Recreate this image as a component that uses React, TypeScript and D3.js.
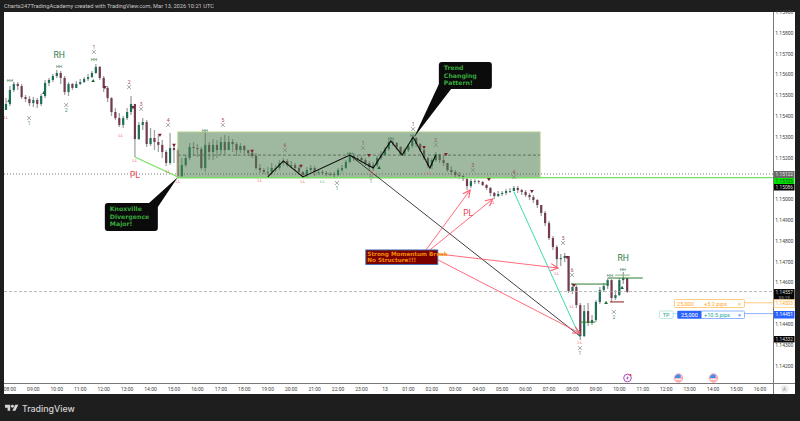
import React from 'react'
import * as d3 from 'd3'

// prices are in 1e-5 units (115459 = 1.15459), one bar every 10 minutes from 07:50
const closes = [
  115459, 115526, 115555, 115545, 115492, 115483, 115463, 115478, 115459, 115497,
  115560, 115574, 115593, 115608, 115584, 115516, 115555, 115536, 115555, 115564,
  115579, 115588, 115608, 115637, 115584, 115536, 115487, 115420, 115391, 115358,
  115391, 115420, 115459, 115290, 115358, 115372, 115266, 115295, 115276, 115262,
  115228, 115175, 115247, 115237, 115112, 115165, 115199, 115252, 115247, 115242,
  115151, 115262, 115228, 115262, 115237, 115276, 115237, 115276, 115266, 115237,
  115257, 115237, 115223, 115209, 115151, 115141, 115132, 115132, 115151, 115151,
  115175, 115185, 115165, 115165, 115151, 115132, 115117, 115141, 115151, 115132,
  115132, 115127, 115122, 115122, 115117, 115141, 115151, 115180, 115209, 115199,
  115199, 115189, 115175, 115156, 115165, 115199, 115213, 115242, 115276, 115271,
  115252, 115218, 115237, 115257, 115295, 115266, 115237, 115199, 115161, 115189,
  115218, 115189, 115175, 115141, 115132, 115117, 115112, 115098, 115064, 115088,
  115088, 115084, 115069, 115055, 115031, 115016, 115026, 115031, 115040, 115040,
  115055, 115045, 115036, 115021, 115011, 114997, 114973, 114935, 114886, 114814,
  114771, 114713, 114718, 114728, 114560, 114579, 114492, 114343, 114463, 114406,
  114420, 114507, 114564, 114584, 114612, 114526, 114540, 114612, 114622, 114555,
]
const highs = [
  115487, 115545, 115564, 115564, 115555, 115502, 115497, 115492, 115487, 115507,
  115574, 115584, 115603, 115622, 115617, 115593, 115564, 115560, 115569, 115579,
  115588, 115603, 115617, 115651, 115641, 115593, 115545, 115492, 115439, 115415,
  115401, 115439, 115497, 115459, 115372, 115391, 115382, 115343, 115334, 115314,
  115286, 115237, 115319, 115262, 115247, 115199, 115213, 115271, 115276, 115266,
  115252, 115324, 115276, 115290, 115286, 115300, 115310, 115305, 115290, 115276,
  115271, 115262, 115237, 115233, 115223, 115170, 115151, 115156, 115175, 115165,
  115189, 115199, 115194, 115185, 115175, 115161, 115136, 115156, 115165, 115161,
  115146, 115141, 115136, 115132, 115132, 115151, 115165, 115189, 115223, 115223,
  115213, 115209, 115199, 115185, 115180, 115209, 115233, 115252, 115286, 115286,
  115276, 115257, 115247, 115266, 115305, 115300, 115271, 115242, 115204, 115199,
  115228, 115218, 115213, 115175, 115161, 115141, 115132, 115117, 115103, 115098,
  115098, 115093, 115088, 115074, 115060, 115036, 115040, 115040, 115050, 115055,
  115064, 115064, 115050, 115045, 115031, 115021, 115002, 114973, 114944, 114896,
  114824, 114781, 114738, 114742, 114728, 114598, 114588, 114502, 114492, 114502,
  114444, 114516, 114579, 114598, 114622, 114617, 114564, 114622, 114651, 114598,
]
const lows = [
  115430, 115449, 115516, 115526, 115483, 115468, 115449, 115444, 115439, 115449,
  115487, 115545, 115564, 115584, 115555, 115502, 115497, 115526, 115536, 115550,
  115560, 115569, 115584, 115603, 115574, 115516, 115468, 115401, 115382, 115348,
  115343, 115382, 115406, 115204, 115286, 115334, 115252, 115257, 115237, 115228,
  115199, 115161, 115165, 115175, 115108, 115108, 115156, 115189, 115209, 115204,
  115141, 115132, 115189, 115189, 115199, 115213, 115213, 115237, 115228, 115209,
  115223, 115218, 115209, 115199, 115141, 115127, 115122, 115117, 115117, 115132,
  115141, 115161, 115156, 115151, 115136, 115122, 115103, 115108, 115132, 115112,
  115117, 115117, 115112, 115112, 115103, 115112, 115132, 115146, 115175, 115185,
  115185, 115175, 115161, 115141, 115136, 115156, 115189, 115209, 115233, 115257,
  115237, 115209, 115209, 115228, 115247, 115252, 115228, 115189, 115151, 115146,
  115180, 115175, 115161, 115132, 115117, 115108, 115098, 115088, 115045, 115055,
  115074, 115074, 115064, 115045, 115016, 115002, 115011, 115016, 115021, 115031,
  115040, 115031, 115021, 115011, 114997, 114983, 114959, 114920, 114872, 114805,
  114757, 114670, 114680, 114699, 114550, 114545, 114478, 114324, 114338, 114391,
  114396, 114410, 114497, 114555, 114569, 114507, 114516, 114535, 114593, 114550,
]
const firstOpen = 115430

// 1.15100 and 1.14500 sit behind the price badges, so they are left out
const priceTicks = [115900, 115800, 115700, 115600, 115500, 115400, 115300, 115200, 115000,
  114900, 114800, 114700, 114600, 114400, 114300, 114200]
const timeLabels = ['08:00', '09:00', '10:00', '11:00', '12:00', '13:00', '14:00', '15:00', '16:00', '17:00',
  '18:00', '19:00', '20:00', '21:00', '22:00', '23:00', '13', '01:00', '02:00', '03:00', '04:00', '05:00',
  '06:00', '07:00', '08:00', '09:00', '10:00', '11:00', '12:00', '13:00', '14:00', '15:00', '16:00']

// annotation points: [bar index, price]
const zigzag = [[67, 115108], [71, 115185], [76, 115108], [88, 115213], [94, 115151], [98.5, 115281],
  [101.4, 115213], [104.2, 115300], [108.5, 115151], [110, 115213]]
const blackTrend = [[88, 115213], [146.9, 114343]]
const tealTrend = [[130, 115036], [146.9, 114338]]
const plLine = [[33, 115204], [44, 115108]]
const redArrows = [
  [[107.5, 114757], [118.8, 115045]],
  [[108.5, 114757], [124.6, 115002]],
  [[110.6, 114738], [141.3, 114670]],
  [[110.6, 114709], [146.9, 114357]],
]
const hhMarks = [[1, 115574], [13.6, 115641], [22.5, 115675], [50.9, 115329], [88, 115223], [98.5, 115295],
  [104.2, 115305], [154.6, 114632], [157.9, 114661]]
const llMarks = [[0, 115396], [29.4, 115305], [33, 115185], [41.5, 115136], [44, 115084], [65, 115093],
  [76, 115084], [93.7, 115127], [108.3, 115127], [118.5, 115031], [124.6, 114983], [141, 114646],
  [144.9, 114483], [146.9, 114310]]
const countsAbove = [[22.5, 115709, '1'], [31.5, 115540, '2'], [34.6, 115435, '3'], [41.5, 115358, '4'],
  [55.5, 115358, '5'], [71.4, 115237, '6'], [91.4, 115247, '1'], [104.2, 115338, '1'], [110, 115262, '2'],
  [119.5, 115141, '3'], [130, 115108, '4'], [142.6, 114790, '5'], [144.9, 114636, '6']]
const countsBelow = [[5.9, 115391, '1'], [15.4, 115454, '2'], [84.7, 115079, '1'], [93.4, 115112, '1'],
  [146.9, 114285, '1'], [155.6, 114459, '2']]
const downMarks = [[25.3, 115540], [32.5, 115444], [39.4, 115310], [43, 115262], [63, 115233], [75.5, 115161],
  [92.9, 115213], [107, 115252], [112.6, 115218], [123.6, 115098], [134.6, 115040], [143.6, 114723], [145.4, 114588]]
const upMarks = [[0.8, 115473], [9.7, 115512], [22.3, 115569], [95.5, 115151], [153.6, 114502], [157.7, 114574]]
const levelSegments = [
  [144.6, 154.1, 114593, '#2e7d32'],
  [154.1, 163, 114622, '#2e7d32'],
  [146.9, 150.8, 114410, '#2e7d32'],
  [155.9, 159.7, 114636, '#7fb77f'],
  [154.6, 158.2, 114507, '#8b1a1a'],
]

const barX = d3.scaleLinear().domain([0, 193]).range([6, 760])
const priceY = d3.scaleLinear().domain([115800, 114200]).range([33, 365.8])
const chartLeft = 4
const chartRight = 773
const chartTop = 12
const chartBottom = 383

const toLine = d3.line<number[]>().x(d => barX(d[0])).y(d => priceY(d[1]))
const crossPath = d3.symbol(d3.symbolTimes, 12)() || ''
const trianglePath = d3.symbol(d3.symbolTriangle, 6)() || ''
const axisFont = 'Roboto, sans-serif'
const noteFont = '"DejaVu Sans", sans-serif'

function Callout({ i, p, w, h, tip, base, lines }: any) {
  const left = barX(i)
  const top = priceY(p)
  return (
    <g>
      <polygon
        points={`${left + base[0]},${top + base[1]} ${left + base[2]},${top + base[3]} ${barX(tip[0])},${priceY(tip[1])}`}
        fill="#0b0b0b"
      />
      <rect x={left} y={top} width={w} height={h} rx={3} fill="#0b0b0b" />
      {lines.map((line: string, k: number) => (
        <text key={k} x={left + 5} y={top + 8 + k * 7.6} fontSize={6.2} fontWeight="bold" fontFamily={noteFont} fill="#38a83c">
          {line}
        </text>
      ))}
    </g>
  )
}

function PriceBadge({ top, h, fill, color, stroke, label }: any) {
  return (
    <g>
      <rect x={774} y={top} width={20.5} height={h} fill={fill} stroke={stroke || 'none'} strokeWidth={stroke ? 0.8 : 0} />
      <text x={784.3} y={top + h / 2 + 1.7} fontSize={4.8} textAnchor="middle" fontFamily={axisFont} fill={color}>{label}</text>
    </g>
  )
}

export default function App() {
  const bars = closes.map((c, i) => ({
    i,
    open: i === 0 ? firstOpen : closes[i - 1],
    close: c,
    high: highs[i],
    low: lows[i],
  }))

  return (
    <svg
      width={800}
      height={421}
      style={{ position: 'absolute', left: 0, top: 0, display: 'block', background: '#1e1e1e' }}
    >
      <defs>
        <clipPath id="plot">
          <rect x={chartLeft} y={chartTop} width={chartRight - chartLeft} height={chartBottom - chartTop} />
        </clipPath>
        <marker id="redHead" viewBox="0 0 10 10" refX="9" refY="5" markerWidth="9" markerHeight="9" orient="auto" markerUnits="userSpaceOnUse">
          <path d="M1,1 L9,5 L1,9" fill="none" stroke="#ff5a6e" strokeWidth="1.2" />
        </marker>
      </defs>

      <rect x={chartLeft} y={chartTop} width={791} height={382} fill="#ffffff" />
      <text x={4} y={8} fontSize={5.7} fontFamily={axisFont} fill="#c8c8c8">
        Charts247TradingAcademy created with TradingView.com, Mar 13, 2026 10:21 UTC
      </text>

      <g clipPath="url(#plot)">
        {/* candles */}
        {bars.map(b => {
          const up = b.close >= b.open
          const y0 = priceY(Math.max(b.open, b.close))
          const y1 = priceY(Math.min(b.open, b.close))
          return (
            <g key={b.i}>
              <line x1={barX(b.i)} x2={barX(b.i)} y1={priceY(b.high)} y2={priceY(b.low)} stroke="#a2a2a2" strokeWidth={1.3} />
              <rect x={barX(b.i) - 1.1} y={y0} width={2.2} height={Math.max(y1 - y0, 0.8)} fill={up ? '#1a6f58' : '#743a50'} />
            </g>
          )
        })}

        {/* range box */}
        <rect
          x={barX(44)}
          y={priceY(115324)}
          width={barX(136.7) - barX(44)}
          height={priceY(115103) - priceY(115324)}
          fill="#4e7f50"
          fillOpacity={0.55}
          stroke="#b5cf8c"
          strokeWidth={1}
        />
        <line x1={barX(44)} x2={barX(136.7)} y1={priceY(115213)} y2={priceY(115213)} stroke="#5c6e5c" strokeWidth={1} strokeDasharray="3 2" />

        <line x1={chartLeft} x2={chartRight} y1={priceY(115122)} y2={priceY(115122)} stroke="#555" strokeWidth={0.8} strokeDasharray="1 2" />
        <line x1={chartLeft} x2={chartRight} y1={priceY(114557)} y2={priceY(114557)} stroke="#aaa" strokeWidth={0.8} strokeDasharray="3 2" />
        <line x1={barX(44)} x2={chartRight} y1={priceY(115105)} y2={priceY(115105)} stroke="#76e060" strokeWidth={1.2} />
        <path d={toLine(plLine as number[][]) || ''} fill="none" stroke="#76e060" strokeWidth={1.2} />

        {levelSegments.map((s, k) => (
          <line key={k} x1={barX(s[0] as number)} x2={barX(s[1] as number)} y1={priceY(s[2] as number)} y2={priceY(s[2] as number)} stroke={s[3] as string} strokeWidth={1} />
        ))}

        <path d={toLine(tealTrend as number[][]) || ''} fill="none" stroke="#3ddbb0" strokeWidth={1} />
        <path d={toLine(blackTrend as number[][]) || ''} fill="none" stroke="#2a2a2a" strokeWidth={0.9} />
        <path d={toLine(zigzag as number[][]) || ''} fill="none" stroke="#0a0a0a" strokeWidth={1.1} />

        {redArrows.map((a, k) => (
          <path key={k} d={toLine(a as number[][]) || ''} fill="none" stroke="#ff5a6e" strokeWidth={0.9} markerEnd="url(#redHead)" />
        ))}

        {/* marks */}
        {downMarks.map((m, k) => (
          <path key={k} d={trianglePath} transform={`translate(${barX(m[0])},${priceY(m[1])}) rotate(180)`} fill="#7a1f2e" />
        ))}
        {upMarks.map((m, k) => (
          <path key={k} d={trianglePath} transform={`translate(${barX(m[0])},${priceY(m[1])})`} fill="#1f6b35" />
        ))}
        {hhMarks.map((m, k) => (
          <text key={k} x={barX(m[0])} y={priceY(m[1]) + 1.5} fontSize={4.4} textAnchor="middle" fontFamily={axisFont} fill="#3f7f55">HH</text>
        ))}
        {llMarks.map((m, k) => (
          <text key={k} x={barX(m[0])} y={priceY(m[1]) + 1.5} fontSize={4.4} textAnchor="middle" fontFamily={axisFont} fill="#f0696e">LL</text>
        ))}
        <text x={barX(81)} y={priceY(115088) + 1.5} fontSize={4.4} textAnchor="middle" fontFamily={axisFont} fill="#4fb36a">LL</text>
        {countsAbove.map((m, k) => (
          <g key={k}>
            <text x={barX(m[0] as number)} y={priceY(m[1] as number) - 3.2} fontSize={5} textAnchor="middle" fontFamily={axisFont} fill="#9a4a55">{m[2]}</text>
            <path d={crossPath} transform={`translate(${barX(m[0] as number)},${priceY(m[1] as number)})`} fill="none" stroke="#808080" strokeWidth={0.7} />
          </g>
        ))}
        {countsBelow.map((m, k) => (
          <g key={k}>
            <path d={crossPath} transform={`translate(${barX(m[0] as number)},${priceY(m[1] as number)})`} fill="none" stroke="#808080" strokeWidth={0.7} />
            <text x={barX(m[0] as number)} y={priceY(m[1] as number) + 7} fontSize={5} textAnchor="middle" fontFamily={axisFont} fill="#4d8f66">{m[2]}</text>
          </g>
        ))}

        <text x={barX(13.6)} y={priceY(115709) + 6} fontSize={8.6} textAnchor="middle" fontFamily={axisFont} fill="#2e7d4f">RH</text>
        <text x={barX(158)} y={priceY(114703)} fontSize={8.6} textAnchor="middle" fontFamily={axisFont} fill="#2e7d4f">RH</text>
        <text x={barX(33)} y={priceY(115103)} fontSize={8.6} textAnchor="middle" fontFamily={axisFont} fill="#f0454f">PL</text>
        <text x={barX(118.3)} y={priceY(114921)} fontSize={8.6} textAnchor="middle" fontFamily={axisFont} fill="#f0454f">PL</text>

        <Callout
          i={25.3}
          p={114983}
          w={53}
          h={28}
          tip={[44, 115108]}
          base={[42, 2, 53, 4]}
          lines={['Knoxville', 'Divergence', 'Major!']}
        />
        <Callout
          i={110.8}
          p={115661}
          w={53}
          h={27}
          tip={[104.5, 115300]}
          base={[1, 20, 13, 26]}
          lines={['Trend', 'Changing', 'Pattern!']}
        />

        <rect x={barX(92.1)} y={priceY(114757)} width={72} height={14.5} fill="#7a0000" stroke="#3b6fb0" strokeWidth={0.9} />
        <text x={barX(92.1) + 1.5} y={priceY(114757) + 6} fontSize={5.7} fontWeight="bold" fontFamily={noteFont} fill="#f28a00">Strong Momentum Break</text>
        <text x={barX(92.1) + 1.5} y={priceY(114757) + 12.4} fontSize={5.7} fontWeight="bold" fontFamily={noteFont} fill="#f28a00">No Structure!!!</text>

        {/* order lines */}
        <line x1={744} x2={chartRight} y1={priceY(114503)} y2={priceY(114503)} stroke="#ffcc80" strokeWidth={1} />
        <line x1={744} x2={chartRight} y1={priceY(114451)} y2={priceY(114451)} stroke="#90b4ff" strokeWidth={1} />
        <line x1={673} x2={677} y1={priceY(114451)} y2={priceY(114451)} stroke="#b2dfdb" strokeWidth={1} />
        <g fontFamily={axisFont} fontSize={5.6}>
          <rect x={674.5} y={299.5} width={70} height={8} rx={1} fill="#fff" stroke="#ffcc80" strokeWidth={1} />
          <text x={677} y={305.5} fill="#ffa726">25,000</text>
          <text x={704} y={305.5} fill="#ffa726">+5.2 pips</text>
          <text x={739.5} y={305.7} textAnchor="middle" fill="#ffa726">×</text>

          <rect x={659.5} y={311} width={13.5} height={7.5} rx={1} fill="#fff" stroke="#b2dfdb" strokeWidth={0.8} />
          <text x={666.2} y={317} textAnchor="middle" fill="#26a69a">TP</text>
          <rect x={677.5} y={311} width={67} height={7.5} rx={1} fill="#fff" stroke="#90b4ff" strokeWidth={1} />
          <rect x={677.5} y={311} width={24} height={7.5} fill="#2962ff" />
          <text x={689.5} y={317} textAnchor="middle" fill="#fff">25,000</text>
          <text x={704} y={317} fill="#26a69a">+10.5 pips</text>
          <text x={739.5} y={317.2} textAnchor="middle" fill="#2962ff">×</text>
        </g>

        {/* event icons */}
        <g transform="translate(627.5,378)">
          <circle r={3.8} fill="#fff" stroke="#ab47bc" strokeWidth={1} />
          <path d="M0.8,-2.4 L-1.4,0.4 L-0.1,0.4 L-0.8,2.4 L1.4,-0.4 L0.1,-0.4 Z" fill="#8e44ad" />
          <circle cx={3} cy={-3} r={1.1} fill="#f23645" />
        </g>
        {[678.5, 713.5].map(cx => (
          <g key={cx} transform={`translate(${cx},378)`}>
            <circle r={4.3} fill="#f9b3b8" stroke="#f7a0a6" strokeWidth={0.8} />
            <path d="M-3.6,0 A3.6,3.6 0 0 1 2,-3 L2,0 Z" fill="#3f8ff0" />
            <line x1={-3.4} x2={3.4} y1={1.4} y2={1.4} stroke="#fff" strokeWidth={0.8} />
          </g>
        ))}
      </g>

      {/* axes */}
      <line x1={chartRight + 0.5} x2={chartRight + 0.5} y1={chartTop} y2={394} stroke="#787878" strokeWidth={1} />
      <line x1={chartLeft} x2={795} y1={383.5} y2={383.5} stroke="#787878" strokeWidth={1} />
      {priceTicks.map(p => (
        <text key={p} x={784.3} y={priceY(p) + 1.8} fontSize={5} textAnchor="middle" fontFamily={axisFont} fill="#444">
          {d3.format('.5f')(p / 1e5)}
        </text>
      ))}
      {timeLabels.map((label, k) => (
        <text key={k} x={barX(1 + k * 6)} y={390.5} fontSize={5} textAnchor="middle" fontFamily={axisFont} fill="#444">{label}</text>
      ))}

      <PriceBadge top={171} h={7} fill="#6a6a6a" color="#e6e6e6" label="1.15122" />
      <PriceBadge top={178} h={6} fill="#00e600" color="#14502a" label="1.15105" />
      <PriceBadge top={184} h={6.5} fill="#050505" color="#ddd" label="1.15086" />
      <rect x={774} y={289} width={20.5} height={10.5} fill="#050505" />
      <text x={784.3} y={293.8} fontSize={4.8} textAnchor="middle" fontFamily={axisFont} fill="#ddd">1.14557</text>
      <text x={784.3} y={298.6} fontSize={4.4} textAnchor="middle" fontFamily={axisFont} fill="#aaa">03:19</text>
      <PriceBadge top={299.8} h={7.7} fill="#fff" stroke="#ffcc80" color="#ffa726" label="1.14503" />
      <PriceBadge top={311} h={7.5} fill="#2962ff" color="#fff" label="1.14451" />
      <PriceBadge top={336} h={6.5} fill="#050505" color="#ddd" label="1.14332" />

      <circle cx={784.5} cy={389} r={4} fill="#eeeeee" />
      <text x={784.5} y={391} fontSize={5} textAnchor="middle" fontFamily={axisFont} fill="#888">A</text>

      {/* logo */}
      <g transform="translate(5,402.5) scale(0.37)" fill="#d4d4d4">
        <path d="M14 6H0v8h7v8h7V6Z M28 22H20l7.5-16H36l-8 16Z" />
        <circle cx={20} cy={10} r={4} />
      </g>
      <text x={22} y={411.5} fontSize={8.8} fontFamily={'Inter, sans-serif'} fontWeight={500} fill="#d4d4d4">TradingView</text>
    </svg>
  )
}
